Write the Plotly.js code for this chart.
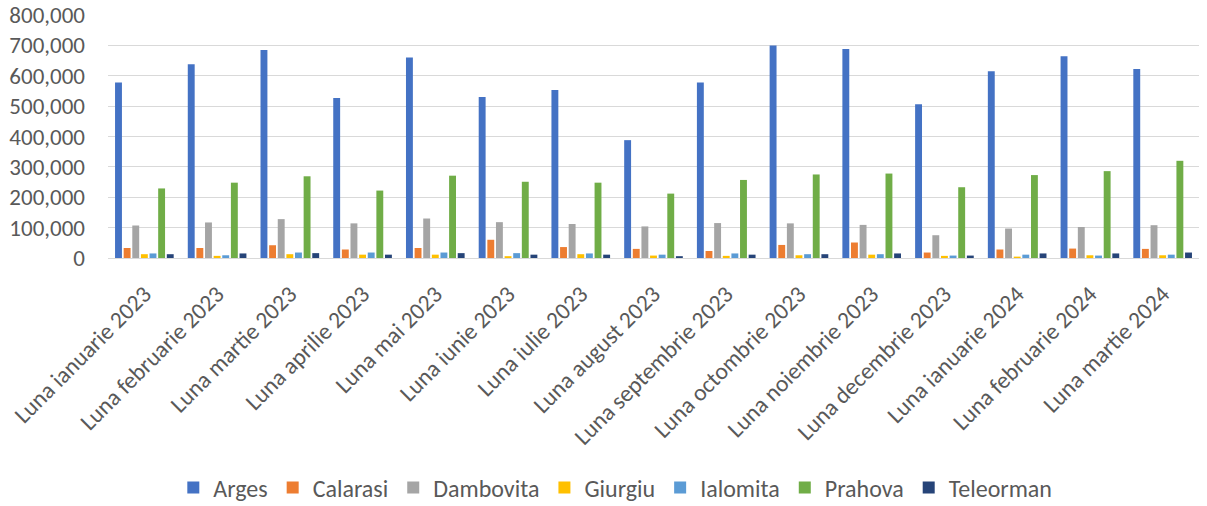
<!DOCTYPE html>
<html>
<head>
<meta charset="utf-8">
<script src="https://cdn.plot.ly/plotly-3.0.1.min.js"></script>
<style>html,body{margin:0;padding:0;background:#fff;}#chart{width:1207px;height:506px;}</style>
</head>
<body>
<div id="chart"></div>
<script>
const categories = ["Luna ianuarie 2023","Luna februarie 2023","Luna martie 2023","Luna aprilie 2023","Luna mai 2023","Luna iunie 2023","Luna iulie 2023","Luna august 2023","Luna septembrie 2023","Luna octombrie 2023","Luna noiembrie 2023","Luna decembrie 2023","Luna ianuarie 2024","Luna februarie 2024","Luna martie 2024"];
const arges     = [578000,638000,685000,527000,660000,530000,553000,388000,578000,700000,688000,506000,615000,664000,622000];
const calarasi  = [33000,33000,42000,28000,33000,60000,36000,30000,23000,43000,51000,18000,28000,31000,30000];
const dambovita = [107000,117000,128000,114000,130000,118000,112000,104000,115000,114000,109000,75000,97000,102000,108000];
const giurgiu   = [12500,7000,12500,11000,11000,6000,12500,8000,7000,9000,11000,7000,4500,9000,9000];
const ialomita  = [15000,9000,18000,18000,18000,16000,15000,11000,15000,12500,12500,8000,11000,8000,11000];
const prahova   = [229000,248000,269000,222000,271000,251000,248000,212000,257000,275000,278000,233000,273000,286000,320000];
const teleorman = [12500,15000,16000,11000,16000,11000,11000,6000,11000,12500,15000,8000,15000,15000,18000];
const seriesNames = ["Arges","Calarasi","Dambovita","Giurgiu","Ialomita","Prahova","Teleorman"];
const seriesValues = [arges,calarasi,dambovita,giurgiu,ialomita,prahova,teleorman];
const colors = ["#4472C4","#ED7D31","#A5A5A5","#FFC000","#5B9BD5","#70AD47","#264478"];

const traces = seriesNames.map((n,i)=>({
  type:'bar', name:n, x:categories, y:seriesValues[i],
  marker:{color:colors[i]}, hoverinfo:'x+y+name'
}));
const fontFam = 'Carlito, Calibri, Lato, sans-serif';
const layout = {
  width:1207, height:506,
  margin:{l:108, r:8, t:15, b:247.5},
  paper_bgcolor:'#fff', plot_bgcolor:'#fff',
  font:{family:fontFam, color:'#595959', size:23},
  barmode:'group', bargap:0.17, bargroupgap:0.2,
  xaxis:{tickangle:-45, showline:true, linecolor:'#d9d9d9', linewidth:1, ticks:'', showgrid:false,
         automargin:false, ticklabelstandoff:12,
         tickfont:{family:fontFam, size:23.5, color:'#595959'}},
  yaxis:{range:[0,800000], dtick:100000, tickformat:',', showgrid:true, gridcolor:'#d9d9d9', gridwidth:1,
         zeroline:false, showline:false, ticks:'', ticklabelstandoff:22, automargin:false,
         tickfont:{family:fontFam, size:23, color:'#595959'}},
  showlegend:true,
  legend:{orientation:'h', x:0.465, xanchor:'center', yref:'container', y:0.036, yanchor:'middle',
          font:{family:fontFam, size:24, color:'#595959'}, itemclick:false, itemwidth:30, tracegroupgap:0}
};
Plotly.newPlot('chart', traces, layout, {displayModeBar:false, staticPlot:true});
</script>
</body>
</html>
